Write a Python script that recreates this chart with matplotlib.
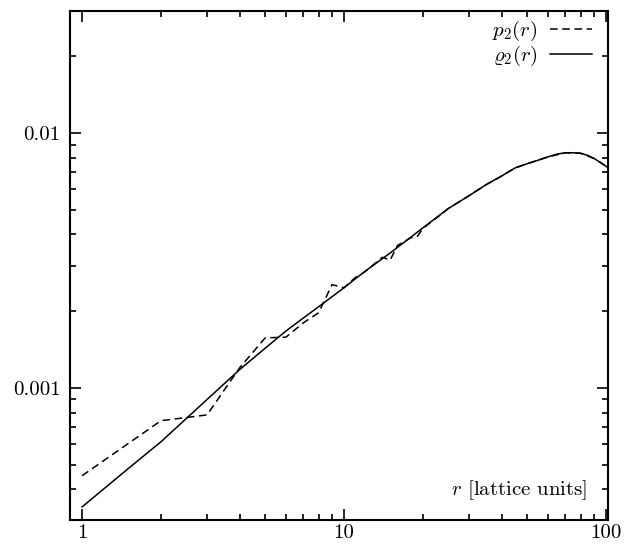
import numpy as np
import matplotlib.pyplot as plt
from matplotlib.ticker import FixedLocator, LogLocator, NullFormatter

plt.rcParams['mathtext.fontset'] = 'cm'
plt.rcParams['font.family'] = 'serif'
plt.rcParams['font.serif'] = ['cmr10', 'DejaVu Serif']
plt.rcParams['axes.formatter.use_mathtext'] = True

# rho_2(r), continuous
r_rho = [1, 1.5, 2, 3, 4, 5, 6, 7, 8, 10, 12, 15, 20, 25, 30, 35, 40, 45,
         50, 55, 60, 65, 70, 75, 80, 85, 90, 95, 100, 102]
rho2 = [3.41e-4, 4.82e-4, 6.14e-4, 9.0e-4, 1.18e-3, 1.43e-3, 1.67e-3, 1.88e-3,
        2.08e-3, 2.47e-3, 2.86e-3, 3.38e-3, 4.24e-3, 5.05e-3, 5.67e-3, 6.28e-3,
        6.78e-3, 7.29e-3, 7.57e-3, 7.81e-3, 8.05e-3, 8.26e-3, 8.36e-3, 8.36e-3,
        8.32e-3, 8.17e-3, 7.94e-3, 7.67e-3, 7.40e-3, 7.28e-3]

# p_2(r), lattice points
r_p = [1, 2, 3, 4, 5, 6, 7, 8, 9, 10, 11, 12, 13, 14, 15, 16, 17, 18, 19, 20,
       22, 25, 30, 35, 40, 45, 50, 60, 70, 80, 90, 100]
p2 = [4.52e-4, 7.43e-4, 7.83e-4, 1.20e-3, 1.57e-3, 1.58e-3, 1.80e-3, 1.97e-3,
      2.54e-3, 2.47e-3, 2.70e-3, 2.85e-3, 3.05e-3, 3.25e-3, 3.17e-3, 3.62e-3,
      3.75e-3, 3.88e-3, 3.91e-3, 4.22e-3, 4.55e-3, 5.05e-3, 5.67e-3, 6.28e-3,
      6.78e-3, 7.29e-3, 7.57e-3, 8.05e-3, 8.36e-3, 8.32e-3, 7.94e-3, 7.40e-3]

fig = plt.figure(figsize=(6.37, 5.46), dpi=100)
ax = fig.add_axes([0.110, 0.0476, 0.8445, 0.9324])

ax.plot(r_p, p2, color='black', lw=1.1, ls=(0, (5, 3)), label=r'$p_2(r)$')
ax.plot(r_rho, rho2, color='black', lw=1.1, label=r'$\varrho_2(r)$')

ax.set_xscale('log')
ax.set_yscale('log')
ax.set_xlim(0.9, 101.8)
ax.set_ylim(3.03e-4, 3.01e-2)

ax.xaxis.set_major_locator(FixedLocator([1, 10, 100]))
ax.set_xticklabels(['1', '10', '100'])
ax.yaxis.set_major_locator(FixedLocator([0.001, 0.01]))
ax.set_yticklabels(['0.001', '0.01'])
ax.xaxis.set_minor_locator(LogLocator(base=10, subs=np.arange(2, 10)))
ax.yaxis.set_minor_locator(LogLocator(base=10, subs=np.arange(2, 10)))
ax.xaxis.set_minor_formatter(NullFormatter())
ax.yaxis.set_minor_formatter(NullFormatter())

ax.tick_params(which='both', direction='in', top=True, right=True,
               labelsize=15, width=1.2, color='black')
ax.tick_params(which='major', length=8)
ax.tick_params(which='minor', length=4)
ax.tick_params(axis='x', which='major', pad=3)
ax.tick_params(axis='y', which='major', pad=7)
for s in ax.spines.values():
    s.set_linewidth(1.5)

ax.text(0.961, 0.059, r'$r$ [lattice units]', transform=ax.transAxes,
        ha='right', va='center', fontsize=15)

leg = ax.legend(loc='upper right', frameon=False, markerfirst=False,
                fontsize=15, handlelength=2.0, handletextpad=0.6,
                labelspacing=0.02, borderaxespad=0.0,
                bbox_to_anchor=(0.985, 1.0))

plt.savefig('out.png', dpi=100)
